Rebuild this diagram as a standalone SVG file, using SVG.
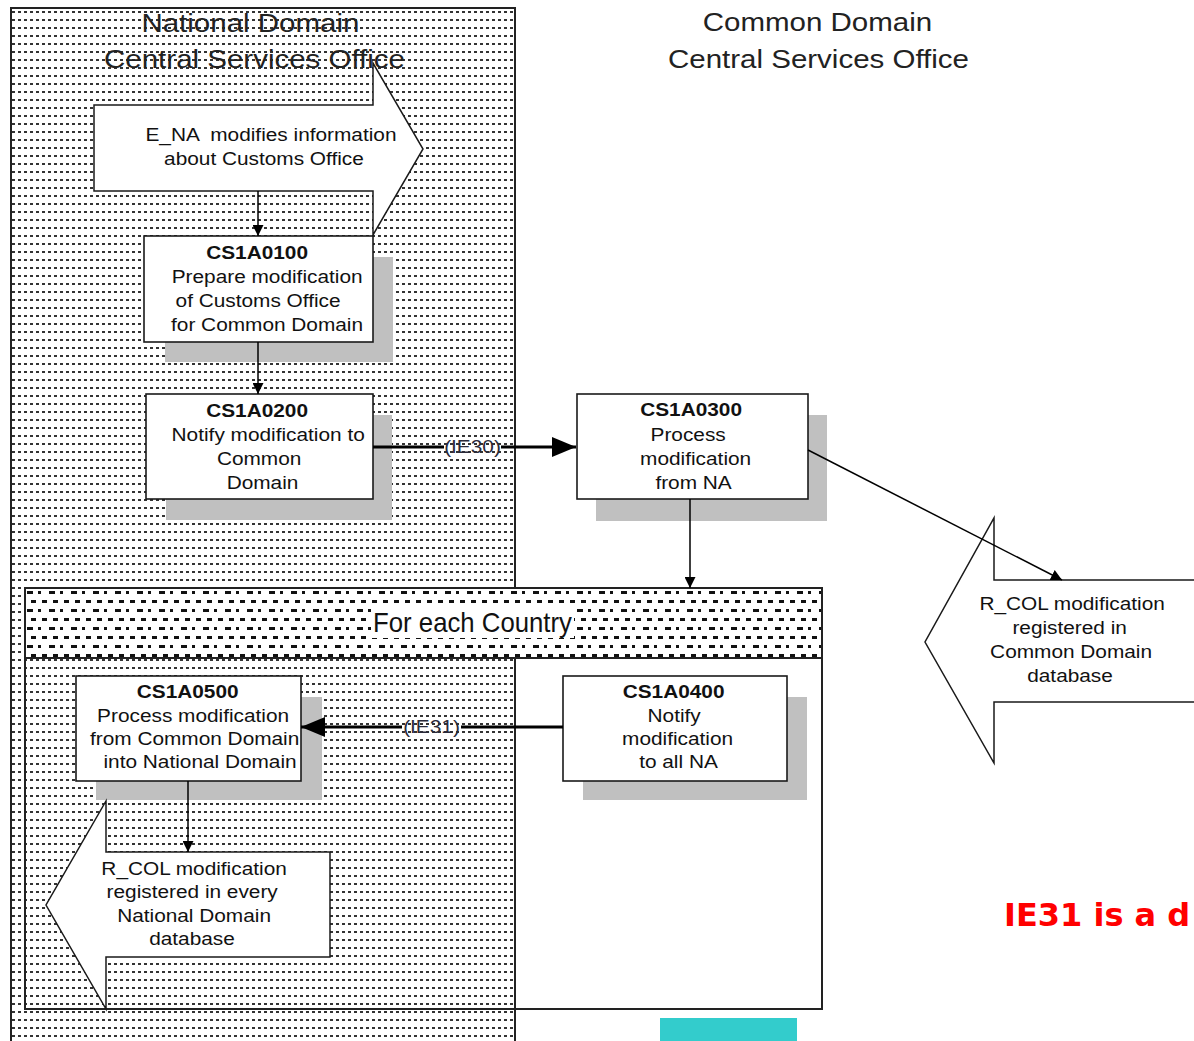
<svg xmlns="http://www.w3.org/2000/svg" width="1194" height="1041" viewBox="0 0 1194 1041">
<style>
  .tx { font-family: "Liberation Sans", Arial, sans-serif; font-size: 17.5px; fill: #111; text-anchor: middle; }
  .tt { font-family: "Liberation Sans", Arial, sans-serif; font-size: 25px; fill: #222; text-anchor: middle; }
  .lbl { font-family: "Liberation Sans", Arial, sans-serif; font-size: 17.5px; fill: #2a2a3a; text-anchor: middle; }
  .b { font-weight: bold; }
  .box { fill: #fff; stroke: #1a1a1a; stroke-width: 1.6; }
  .shadow { fill: #c0c0c0; }
  .blk { fill: #fff; stroke: #1a1a1a; stroke-width: 1.5; stroke-linejoin: miter; }
  .thin { fill: none; stroke: #000; stroke-width: 1.5; }
  .thick { fill: none; stroke: #000; stroke-width: 3.2; }
</style>
<defs>
  <pattern id="dots" x="11" y="8" width="6" height="8" patternUnits="userSpaceOnUse">
    <rect x="1" y="3" width="3" height="2" fill="#333"/>
  </pattern>
  <pattern id="hdr" x="25" y="588" width="22" height="18" patternUnits="userSpaceOnUse">
    <rect width="22" height="18" fill="#fff"/>
    <rect x="2" y="3" width="6" height="3" fill="#111"/>
    <rect x="13" y="3" width="3" height="3" fill="#111"/>
    <rect x="6" y="12" width="5" height="3" fill="#111"/>
    <rect x="17" y="12" width="5" height="3" fill="#111"/>
  </pattern>
  <marker id="ah" viewBox="0 0 11 11" markerUnits="userSpaceOnUse" markerWidth="11" markerHeight="11" refX="11" refY="5.5" orient="auto">
    <path d="M0,0 L11,5.5 L0,11 z" fill="#000"/>
  </marker>
  <marker id="ahb" viewBox="0 0 24 20" markerUnits="userSpaceOnUse" markerWidth="24" markerHeight="20" refX="24" refY="10" orient="auto">
    <path d="M0,0 L24,10 L0,20 z" fill="#000"/>
  </marker>
</defs>

<rect width="1194" height="1041" fill="#fff"/>

<g id="lane-national">
  <rect x="11" y="8" width="504" height="1045" fill="url(#dots)" stroke="#222" stroke-width="2"/>
  <text class="tt" transform="translate(254.5 0) scale(1.18 1)">
    <tspan x="0" y="32">National Domain</tspan>
    <tspan x="0" y="68.5">Central Services Office</tspan>
  </text>
</g>

<g id="lane-common">
  <text class="tt" transform="translate(820 0) scale(1.18 1)">
    <tspan x="1.3" y="31.5">Common Domain</tspan>
    <tspan x="-1.3" y="68">Central Services Office</tspan>
  </text>
</g>

<g id="loop-for-each-country">
  <rect x="25" y="588" width="797" height="421" fill="none" stroke="#222" stroke-width="2"/>
  <rect x="25" y="588" width="797" height="70" fill="url(#hdr)" stroke="#222" stroke-width="2"/>
  <rect x="371" y="607" width="203" height="31" fill="#fff"/>
  <text transform="translate(472.5 0) scale(0.92 1)" x="0" y="632" font-family="'Liberation Sans', Arial, sans-serif" font-size="28" fill="#111" text-anchor="middle">For each Country</text>
</g>

<g id="E_NA">
  <polygon class="blk" points="94,105 373,105 373,63 423,149 373,235 373,191 94,191"/>
  <text class="tx" transform="translate(268 0) scale(1.19 1)" xml:space="preserve"><tspan x="2.5" y="141">E_NA  modifies information</tspan><tspan x="-3.4" y="165">about Customs Office</tspan></text>
</g>

<g id="CS1A0100">
  <rect class="shadow" x="165" y="257" width="228" height="105"/>
  <rect class="box" x="144" y="236" width="229" height="106"/>
  <text class="tx" transform="translate(260 0) scale(1.19 1)">
    <tspan class="b" x="0" y="259">CS1A0100</tspan>
    <tspan x="8.4" y="283">Prepare modification</tspan>
    <tspan x="0.8" y="307">of Customs Office</tspan>
    <tspan x="5.9" y="331">for Common Domain</tspan>
  </text>
</g>

<g id="CS1A0200">
  <rect class="shadow" x="166" y="415" width="226" height="105"/>
  <rect class="box" x="146" y="394" width="227" height="105"/>
  <text class="tx" transform="translate(262 0) scale(1.19 1)">
    <tspan class="b" x="-1.7" y="417">CS1A0200</tspan>
    <tspan x="7.6" y="441">Notify modification to</tspan>
    <tspan x="0" y="465">Common</tspan>
    <tspan x="0.4" y="489">Domain</tspan>
  </text>
</g>

<g id="CS1A0300">
  <rect class="shadow" x="596" y="415" width="231" height="106"/>
  <rect class="box" x="577" y="394" width="231" height="105"/>
  <text class="tx" transform="translate(694 0) scale(1.19 1)">
    <tspan class="b" x="0" y="416">CS1A0300</tspan>
    <tspan x="-2.5" y="441">Process</tspan>
    <tspan x="3.8" y="465">modification</tspan>
    <tspan x="-0.4" y="489">from NA</tspan>
  </text>
</g>

<g id="CS1A0400">
  <rect class="shadow" x="583" y="697" width="224" height="103"/>
  <rect class="box" x="563" y="676" width="224" height="105"/>
  <text class="tx" transform="translate(678 0) scale(1.19 1)">
    <tspan class="b" x="-1.3" y="698">CS1A0400</tspan>
    <tspan x="-0.8" y="722">Notify</tspan>
    <tspan x="2.1" y="745">modification</tspan>
    <tspan x="0.4" y="768">to all NA</tspan>
  </text>
</g>

<g id="CS1A0500">
  <rect class="shadow" x="96" y="697" width="226" height="103"/>
  <rect class="box" x="76" y="676" width="225" height="105"/>
  <text class="tx" transform="translate(196 0) scale(1.19 1)">
    <tspan class="b" x="-4.6" y="698">CS1A0500</tspan>
    <tspan x="0" y="722">Process modification</tspan>
    <tspan x="1.3" y="745">from Common Domain</tspan>
    <tspan x="3.4" y="768">into National Domain</tspan>
  </text>
</g>

<g id="R_COL_common">
  <polygon class="blk" points="1200,580 994,580 994,518 925,642 994,763 994,702 1200,702"/>
  <text class="tx" transform="translate(1073 0) scale(1.19 1)">
    <tspan x="1.7" y="610">R_COL modification</tspan>
    <tspan x="-0.4" y="634">registered in</tspan>
    <tspan x="0.8" y="658">Common Domain</tspan>
    <tspan x="-2.5" y="682">database</tspan>
  </text>
</g>

<g id="R_COL_national">
  <polygon class="blk" points="330,852 106,852 106,801 46,905 106,1009 106,957 330,957"/>
  <text class="tx" transform="translate(196 0) scale(1.19 1)">
    <tspan x="0.8" y="875">R_COL modification</tspan>
    <tspan x="-0.8" y="898">registered in every</tspan>
    <tspan x="0.8" y="922">National Domain</tspan>
    <tspan x="-3.4" y="945">database</tspan>
  </text>
</g>

<g id="connectors">
  <line class="thin" x1="258" y1="191" x2="258" y2="236" marker-end="url(#ah)"/>
  <line class="thin" x1="258" y1="342" x2="258" y2="394" marker-end="url(#ah)"/>
  <line class="thick" x1="373" y1="447" x2="444" y2="447"/>
  <line class="thick" x1="501" y1="447" x2="576" y2="447" marker-end="url(#ahb)"/>
  <text class="lbl" transform="translate(472.5 0) scale(1.19 1)" x="0" y="453.5">(IE30)</text>
  <line class="thin" x1="690" y1="499" x2="690" y2="588" marker-end="url(#ah)"/>
  <line class="thin" x1="808" y1="450" x2="1062" y2="580" marker-end="url(#ah)"/>
  <line class="thick" x1="563" y1="727" x2="461" y2="727"/>
  <line class="thick" x1="402" y1="727" x2="301" y2="727" marker-end="url(#ahb)"/>
  <text class="lbl" transform="translate(431.5 0) scale(1.19 1)" x="0" y="733">(IE31)</text>
  <line class="thin" x1="188" y1="781" x2="188" y2="852" marker-end="url(#ah)"/>
</g>

<g id="note">
  <text x="1004" y="926" font-family="'DejaVu Sans', Verdana, sans-serif" font-weight="bold" font-size="32" fill="#ff0000">IE31 is a d</text>
</g>

<rect id="teal-bar" x="660" y="1018" width="137" height="23" fill="#33cccc"/>
</svg>
